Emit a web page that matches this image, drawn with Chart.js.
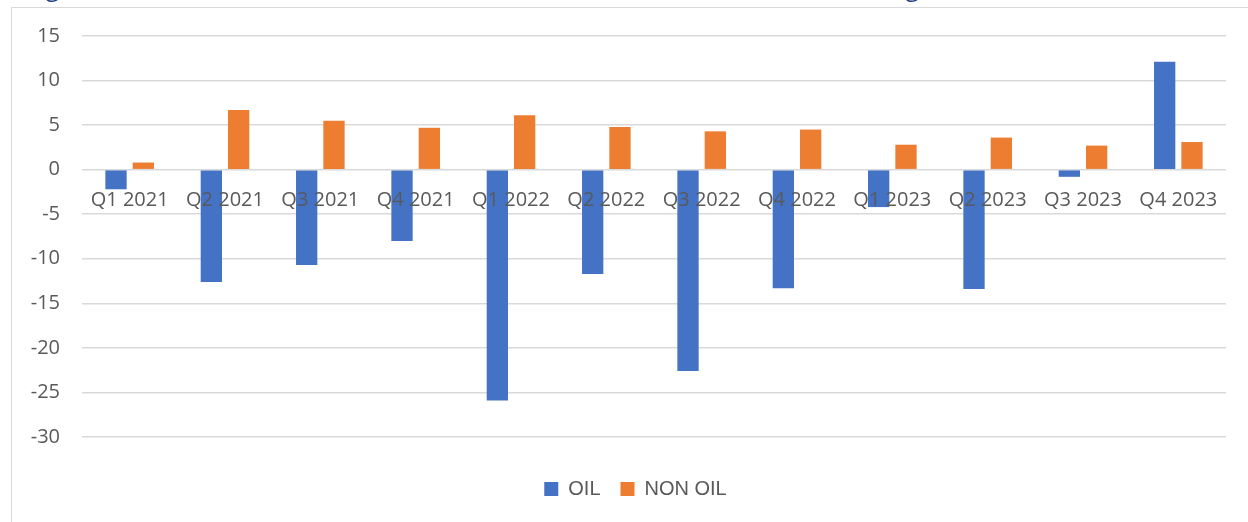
<!DOCTYPE html>
<html>
<head>
<meta charset="utf-8">
<script src="https://cdn.jsdelivr.net/npm/chart.js@4.4.1/dist/chart.umd.min.js"></script>
<style>
  html, body { margin: 0; padding: 0; background: #fff; overflow: hidden; }
  body { width: 1248px; height: 522px; position: relative; font-family: "Open Sans", sans-serif; }
  #heading { position: absolute; left: 27px; top: -26px; font-size: 24.3px; line-height: 26px; color: #1F3C88; white-space: nowrap; }
  #frame { position: absolute; left: 11px; top: 7px; width: 1300px; height: 600px; border: 1px solid #d9d9d9; box-sizing: border-box; }
  #myChart { position: absolute; left: 0; top: 0; }
</style>
</head>
<body>
<div id="heading">Figure 1: Real Growth of Oil and Non-Oil Activities in All Sectors – Annual Changes (%)</div>
<div id="frame"></div>
<canvas id="myChart" width="1248" height="522"></canvas>
<script>
var quarters = ['Q1 2021', 'Q2 2021', 'Q3 2021', 'Q4 2021', 'Q1 2022', 'Q2 2022',
                'Q3 2022', 'Q4 2022', 'Q1 2023', 'Q2 2023', 'Q3 2023', 'Q4 2023'];
var oil    = [-2.2, -12.6, -10.7, -8.0, -25.9, -11.7, -22.6, -13.3, -4.2, -13.4, -0.8, 12.1];
var nonOil = [0.8, 6.7, 5.5, 4.7, 6.1, 4.8, 4.3, 4.5, 2.8, 3.6, 2.7, 3.1];
var yMin = -30, yMax = 15, yStep = 5;

var textGrey = '#595959';
var gridGrey = '#d9d9d9';

// nudge the legend a little to the right of the plot centre
var legendShift = {
    id: 'legendShift',
    afterLayout: function(chart) {
        chart.legend.left += 8;
        chart.legend.right += 8;
    }
};

var ctx = document.getElementById('myChart').getContext('2d');
var chart = new Chart(ctx, {
    type: 'bar',
    data: {
        labels: quarters,
        datasets: [{
            label: 'OIL',
            data: oil,
            backgroundColor: '#4472C4',
            borderWidth: 0,
            barPercentage: 0.78,
            categoryPercentage: 0.573
        }, {
            label: 'NON OIL',
            data: nonOil,
            backgroundColor: '#ED7D31',
            borderWidth: 0,
            barPercentage: 0.78,
            categoryPercentage: 0.573
        }]
    },
    options: {
        responsive: false,
        animation: false,
        devicePixelRatio: 1,
        font: { family: '"Open Sans", sans-serif', size: 20 },
        layout: { padding: { left: 29, right: 22, top: 36, bottom: 13 } },
        scales: {
            x: {
                // labels sit just under the zero line, on top of the bars
                position: { y: 0 },
                grid: { display: false },
                border: { display: false },
                ticks: { z: 1, color: textGrey, font: { size: 20 }, padding: 11, maxRotation: 0, autoSkip: false }
            },
            y: {
                min: yMin,
                max: yMax,
                grid: { color: gridGrey, lineWidth: 1.5, drawTicks: false },
                border: { display: false },
                ticks: { stepSize: yStep, color: textGrey, font: { size: 20 }, padding: 22 },
                afterFit: function(scale) { scale.width = 53; }
            }
        },
        plugins: {
            tooltip: { enabled: false },
            legend: {
                position: 'bottom',
                title: { display: true, text: ' ', font: { size: 10 }, padding: { top: 10, bottom: 0 } },
                labels: { boxWidth: 14, boxHeight: 14, padding: 20, color: textGrey, font: { size: 20 } }
            }
        }
    },
    plugins: [legendShift]
});
</script>
</body>
</html>
